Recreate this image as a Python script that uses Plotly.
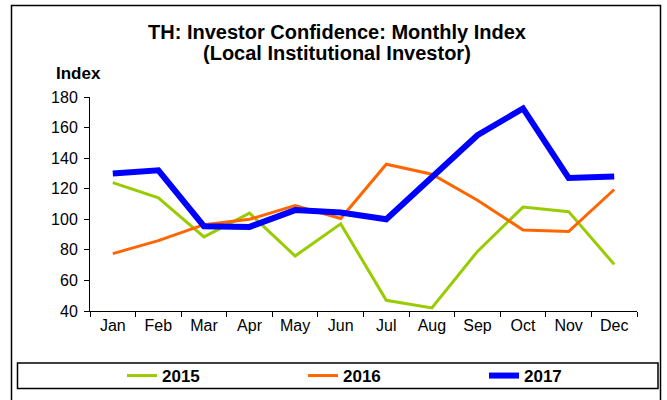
import plotly.graph_objects as go

months = ["Jan", "Feb", "Mar", "Apr", "May", "Jun", "Jul", "Aug", "Sep", "Oct", "Nov", "Dec"]
s2015 = [124, 114, 88.5, 104, 76, 97, 47, 42, 79, 108, 105, 70.5]
s2016 = [77.5, 86, 96.5, 100, 109, 100.5, 136, 129.5, 112.5, 93, 92, 119.5]
s2017 = [130, 132, 95.5, 95, 106, 104.5, 100, 128, 155, 172.5, 127, 128]
y_ticks = [40, 60, 80, 100, 120, 140, 160, 180]

FONT = "Liberation Sans, Arial, sans-serif"

fig = go.Figure()
fig.add_trace(go.Scatter(x=months, y=s2015, name="2015", mode="lines",
                         line=dict(color="#99CC00", width=3)))
fig.add_trace(go.Scatter(x=months, y=s2016, name="2016", mode="lines",
                         line=dict(color="#FF6600", width=3)))
fig.add_trace(go.Scatter(x=months, y=s2017, name="2017", mode="lines",
                         line=dict(color="#0000FF", width=6)))

L, R, T, B = 90, 30, 97, 89
W, H = 667, 400
pw, ph = W - L - R, H - T - B


def px(x):
    return (x - L) / pw


def py(y):
    return (H - B - y) / ph


fig.update_layout(
    width=W, height=H,
    margin=dict(l=L, r=R, t=T, b=B, autoexpand=False),
    paper_bgcolor="white", plot_bgcolor="white",
    font=dict(family=FONT, size=16, color="black"),
    title=dict(text="<b>TH: Investor Confidence: Monthly Index</b>",
               x=337 / W, xref="container", xanchor="center", y=1 - 32 / H, yanchor="middle",
               font=dict(size=20, family=FONT)),
    showlegend=True,
    legend=dict(orientation="h", xref="container", yref="container",
                x=122 / W, xanchor="left", y=(H - 376) / H, yanchor="middle",
                entrywidth=136, entrywidthmode="pixels",
                font=dict(size=17, family=FONT, weight="bold"),
                bgcolor="rgba(0,0,0,0)", itemclick=False, tracegroupgap=0),
    xaxis=dict(type="category", showgrid=False, showline=True, linecolor="black", linewidth=1,
               ticks="outside", tickson="boundaries", ticklen=5, tickcolor="black",
               tickfont=dict(size=16), range=[-0.5, 11.5], fixedrange=True),
    yaxis=dict(range=[40, 180], tickvals=y_ticks, showgrid=False, showline=True,
               linecolor="black", linewidth=1, ticks="outside", ticklen=5, tickcolor="black",
               tickfont=dict(size=16), zeroline=False, fixedrange=True, ticklabelstandoff=3),
    shapes=[
        dict(type="rect", xref="paper", yref="paper", x0=px(11.5), x1=px(660.5),
             y0=py(410), y1=py(5.5), line=dict(color="black", width=1.5), layer="below"),
        dict(type="rect", xref="paper", yref="paper", x0=px(17.5), x1=px(658),
             y0=py(388.5), y1=py(363), line=dict(color="black", width=1.5), layer="below"),
    ],
    annotations=[
        dict(text="<b>(Local Institutional Investor)</b>", xref="paper", yref="paper",
             x=px(337), y=py(53), xanchor="center", yanchor="middle", showarrow=False,
             font=dict(size=20, family=FONT)),
        dict(text="<b>Index</b>", xref="paper", yref="paper", x=px(78), y=py(73),
             xanchor="center", yanchor="middle", showarrow=False, font=dict(size=17, family=FONT)),
    ],
)

fig.write_html("out.html", config={"displayModeBar": False},
               post_script="document.body.style.margin='0';document.body.style.overflow='hidden';")
